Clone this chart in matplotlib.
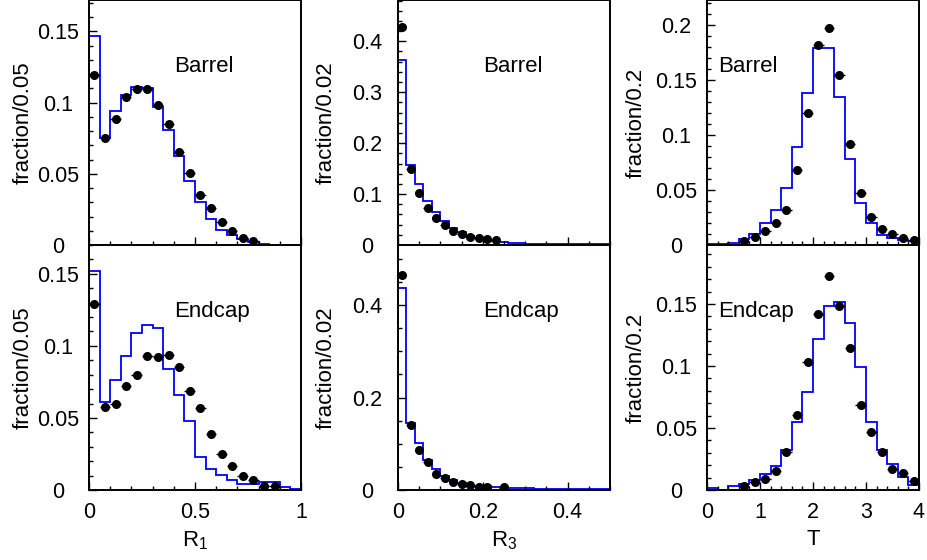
import numpy as np
import matplotlib
matplotlib.use('Agg')
from matplotlib import pyplot as plt
from matplotlib.ticker import MultipleLocator

plt.rcParams['font.family'] = ['Liberation Sans', 'DejaVu Sans']
plt.rcParams['mathtext.fontset'] = 'custom'
plt.rcParams['mathtext.rm'] = 'Liberation Sans'
plt.rcParams['mathtext.default'] = 'regular'

# bin edges
r1_edges = np.linspace(0, 1, 21)
r3_edges = np.linspace(0, 0.5, 26)
t_edges = np.linspace(0, 4, 21)

# R1
r1_bar_hist = [0.147, 0.0748, 0.0944, 0.1053, 0.1111, 0.110, 0.0968, 0.0806, 0.0627, 0.0447,
               0.0301, 0.018, 0.0106, 0.0069, 0.0042, 0.0019, 0.0007, 0, 0, 0]
r1_bar_x = [0.025, 0.075, 0.125, 0.175, 0.225, 0.275, 0.325, 0.375, 0.425, 0.475,
            0.525, 0.575, 0.625, 0.675, 0.725, 0.775]
r1_bar_pts = [0.119, 0.0748, 0.0884, 0.1037, 0.1095, 0.1095, 0.0986, 0.0847, 0.0655, 0.0505,
              0.035, 0.0262, 0.0162, 0.01, 0.0051, 0.0025]
r1_end_hist = [0.152, 0.0612, 0.0763, 0.0928, 0.109, 0.1147, 0.1123, 0.084, 0.0658, 0.0477,
               0.023, 0.0147, 0.0102, 0.0072, 0.0042, 0.0042, 0.0055, 0.0055, 0.0023, 0.0005]
r1_end_x = [0.025, 0.075, 0.125, 0.175, 0.225, 0.275, 0.325, 0.375, 0.425, 0.475,
            0.525, 0.575, 0.625, 0.675, 0.725, 0.775, 0.825, 0.875]
r1_end_pts = [0.1293, 0.0577, 0.0595, 0.0719, 0.080, 0.0928, 0.0921, 0.0937, 0.0856, 0.0688,
              0.0567, 0.039, 0.0247, 0.017, 0.0095, 0.0067, 0.0026, 0.0026]

# R3
r3_bar_hist = [0.364, 0.1566, 0.1207, 0.0868, 0.0639, 0.0463, 0.0326, 0.0248, 0.017, 0.013,
               0.0104, 0.0078, 0.005, 0.004, 0.003, 0.0025, 0.002, 0.002, 0.0015, 0.0015,
               0.001, 0.001, 0.001, 0.001, 0.001]
r3_bar_x = [0.01, 0.03, 0.05, 0.07, 0.09, 0.11, 0.13, 0.15, 0.17, 0.19, 0.21, 0.23]
r3_bar_pts = [0.428, 0.1487, 0.1018, 0.073, 0.0522, 0.0391, 0.0267, 0.0215, 0.0163, 0.0137,
              0.0117, 0.0104]
r3_end_hist = [0.436, 0.146, 0.1014, 0.064, 0.0453, 0.0295, 0.0209, 0.0151, 0.0115, 0.0094,
               0.0079, 0.006, 0.0045, 0.0043, 0.004, 0.0035, 0.0032, 0.003, 0.003, 0.0028,
               0.0025, 0.0025, 0.0022, 0.002, 0.002]
r3_end_x = [0.01, 0.03, 0.05, 0.07, 0.09, 0.11, 0.13, 0.15, 0.17, 0.19, 0.21, 0.25]
r3_end_pts = [0.466, 0.141, 0.087, 0.0597, 0.0345, 0.0259, 0.0173, 0.0137, 0.0101, 0.0072,
              0.0072, 0.0072]

# T
t_bar_hist = [0.0006, 0.0006, 0.0018, 0.0054, 0.010, 0.0199, 0.0317, 0.0516, 0.0887, 0.1382,
              0.1795, 0.1795, 0.1343, 0.0778, 0.0386, 0.0196, 0.0094, 0.006, 0.0048, 0.0033]
t_pts_x = [0.7, 0.9, 1.1, 1.3, 1.5, 1.7, 1.9, 2.1, 2.3, 2.5, 2.7, 2.9, 3.1, 3.3, 3.5, 3.7, 3.9]
t_bar_pts = [0.0039, 0.0075, 0.013, 0.0196, 0.0317, 0.0679, 0.1201, 0.182, 0.1977, 0.1542,
             0.0914, 0.0471, 0.0256, 0.0145, 0.01, 0.0063, 0.0048]
t_end_hist = [0.0016, 0.0, 0.003, 0.0048, 0.0078, 0.0129, 0.019, 0.0319, 0.0545, 0.0789,
              0.1216, 0.1487, 0.1516, 0.1345, 0.0988, 0.0545, 0.0319, 0.0209, 0.0102, 0.0043]
t_end_pts = [0.0035, 0.0062, 0.0091, 0.0156, 0.0306, 0.0604, 0.1033, 0.1417, 0.1726, 0.1481,
             0.1143, 0.0687, 0.0467, 0.0306, 0.0169, 0.0137, 0.007]

fig = plt.figure(figsize=(9.28, 5.6), dpi=100)

W = 212 / 928
H = 245 / 560
lefts = [89 / 928, 398 / 928, 707 / 928]
bottoms = [(560 - 245) / 560, (560 - 490) / 560]

panels = [
    # col, row, edges, hist, px, pts, half-width, xlim, xmaj, xmin, ymax, ymaj, ymin, ylabel, xlabel, text, tx
    (0, 0, r1_edges, r1_bar_hist, r1_bar_x, r1_bar_pts, 0.025, 1, 0.5, 0.1, 0.172, 0.05, 0.01, 'fraction/0.05', None, 'Barrel', 0.40),
    (0, 1, r1_edges, r1_end_hist, r1_end_x, r1_end_pts, 0.025, 1, 0.5, 0.1, 0.170, 0.05, 0.01, 'fraction/0.05', 'R$_1$', 'Endcap', 0.40),
    (1, 0, r3_edges, r3_bar_hist, r3_bar_x, r3_bar_pts, 0.01, 0.5, 0.2, 0.05, 0.481, 0.1, 0.02, 'fraction/0.02', None, 'Barrel', 0.40),
    (1, 1, r3_edges, r3_end_hist, r3_end_x, r3_end_pts, 0.01, 0.5, 0.2, 0.05, 0.53, 0.2, 0.05, 'fraction/0.02', 'R$_3$', 'Endcap', 0.40),
    (2, 0, t_edges, t_bar_hist, t_pts_x, t_bar_pts, 0.1, 4, 1, 0.2, 0.2227, 0.05, 0.01, 'fraction/0.2', None, 'Barrel', 0.052),
    (2, 1, t_edges, t_end_hist, t_pts_x, t_end_pts, 0.1, 4, 1, 0.2, 0.1975, 0.05, 0.01, 'fraction/0.2', 'T', 'Endcap', 0.052),
]
ylab_x = [-0.26, -0.29, -0.285]

for col, row, edges, hist, px, pts, hw, xmax, xmaj, xmin, ymax, ymaj, ymin, ylab, xlab, txt, tx in panels:
    ax = fig.add_axes([lefts[col], bottoms[row], W, H])
    ax.stairs(hist, edges, color='#0000ff', linewidth=1.3, baseline=0)
    ax.errorbar(px, pts, xerr=hw, fmt='o', color='black', markersize=5.5,
                elinewidth=1, capsize=0, zorder=3)
    ax.set_xlim(0, xmax)
    ax.set_ylim(0, ymax)
    ax.xaxis.set_major_locator(MultipleLocator(xmaj))
    ax.xaxis.set_minor_locator(MultipleLocator(xmin))
    ax.yaxis.set_major_locator(MultipleLocator(ymaj))
    ax.yaxis.set_minor_locator(MultipleLocator(ymin))
    ax.tick_params(which='both', direction='in', top=False, right=False, labelsize=15.5)
    ax.tick_params(which='major', length=6, width=1)
    ax.tick_params(which='minor', length=3, width=1)
    ax.tick_params(axis='y', pad=22)
    ax.tick_params(axis='x', pad=9)
    for lbl in ax.get_yticklabels():
        lbl.set_ha('center')
    for s in ax.spines.values():
        s.set_linewidth(1.4)
    ax.yaxis.set_major_formatter(plt.FuncFormatter(lambda v, p: f'{v:g}'))
    ax.xaxis.set_major_formatter(plt.FuncFormatter(lambda v, p: f'{v:g}'))
    ax.set_ylabel(ylab, fontsize=16)
    ax.yaxis.set_label_coords(ylab_x[col], 0.5)
    if xlab is None:
        ax.tick_params(axis='x', labelbottom=False)
    else:
        ax.set_xlabel(xlab, fontsize=16)
        ax.xaxis.set_label_coords(0.5, -0.16)
    ax.text(tx, 0.73, txt, transform=ax.transAxes, fontsize=16, ha='left', va='center')

fig.savefig('out.png', dpi=100)
